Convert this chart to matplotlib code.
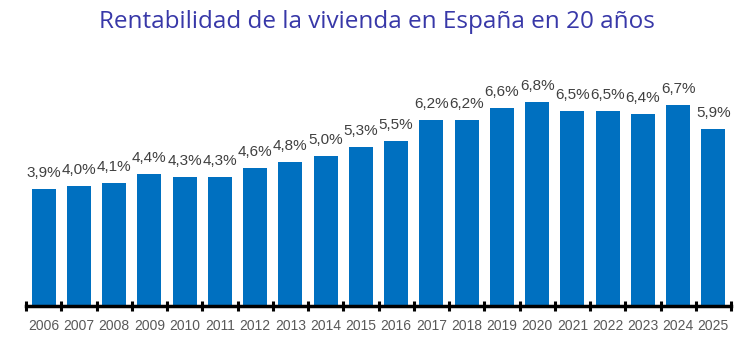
import matplotlib.pyplot as plt

anios = [str(a) for a in range(2006, 2026)]
rentabilidad = [3.9, 4.0, 4.1, 4.4, 4.3, 4.3, 4.6, 4.8, 5.0, 5.3, 5.5,
                6.2, 6.2, 6.6, 6.8, 6.5, 6.5, 6.4, 6.7, 5.9]

plt.rcParams['font.family'] = ['Liberation Sans Narrow', 'Liberation Sans', 'DejaVu Sans']

fig = plt.figure(figsize=(7.47, 3.58), dpi=100)
ax = fig.add_axes([26 / 747, 52 / 358, 705 / 747, 240 / 358])

x = range(len(anios))
barras = ax.bar(x, rentabilidad, width=0.68, color='#0070C0')

# etiquetas encima de cada barra
for xi, v in zip(x, rentabilidad):
    ax.text(xi, v + 0.3, f"{v:.1f}%".replace('.', ','), ha='center', va='bottom',
            fontsize=11, color='#404040')

ax.set_xlim(-0.5, len(anios) - 0.5)
ax.set_ylim(0, 8)
ax.set_yticks([])
for lado in ['top', 'right', 'left']:
    ax.spines[lado].set_visible(False)
ax.spines['bottom'].set_linewidth(2.5)

# ticks entre categorias
ax.set_xticks([i - 0.5 for i in range(len(anios) + 1)], minor=False)
ax.set_xticklabels([])
ax.tick_params(axis='x', which='major', direction='inout', length=7, width=2.2, color='black')
ax.set_xticks(list(x), minor=True)
ax.set_xticklabels(anios, minor=True, fontsize=10, color='#595959')
ax.tick_params(axis='x', which='minor', length=0, pad=9)

fig.text(377 / 747, 1 - 22 / 358, 'Rentabilidad de la vivienda en España en 20 años',
         ha='center', va='center', fontsize=17.5, color='#3838A8',
         family=['Open Sans', 'DejaVu Sans'])

plt.savefig('out.png', dpi=100)
